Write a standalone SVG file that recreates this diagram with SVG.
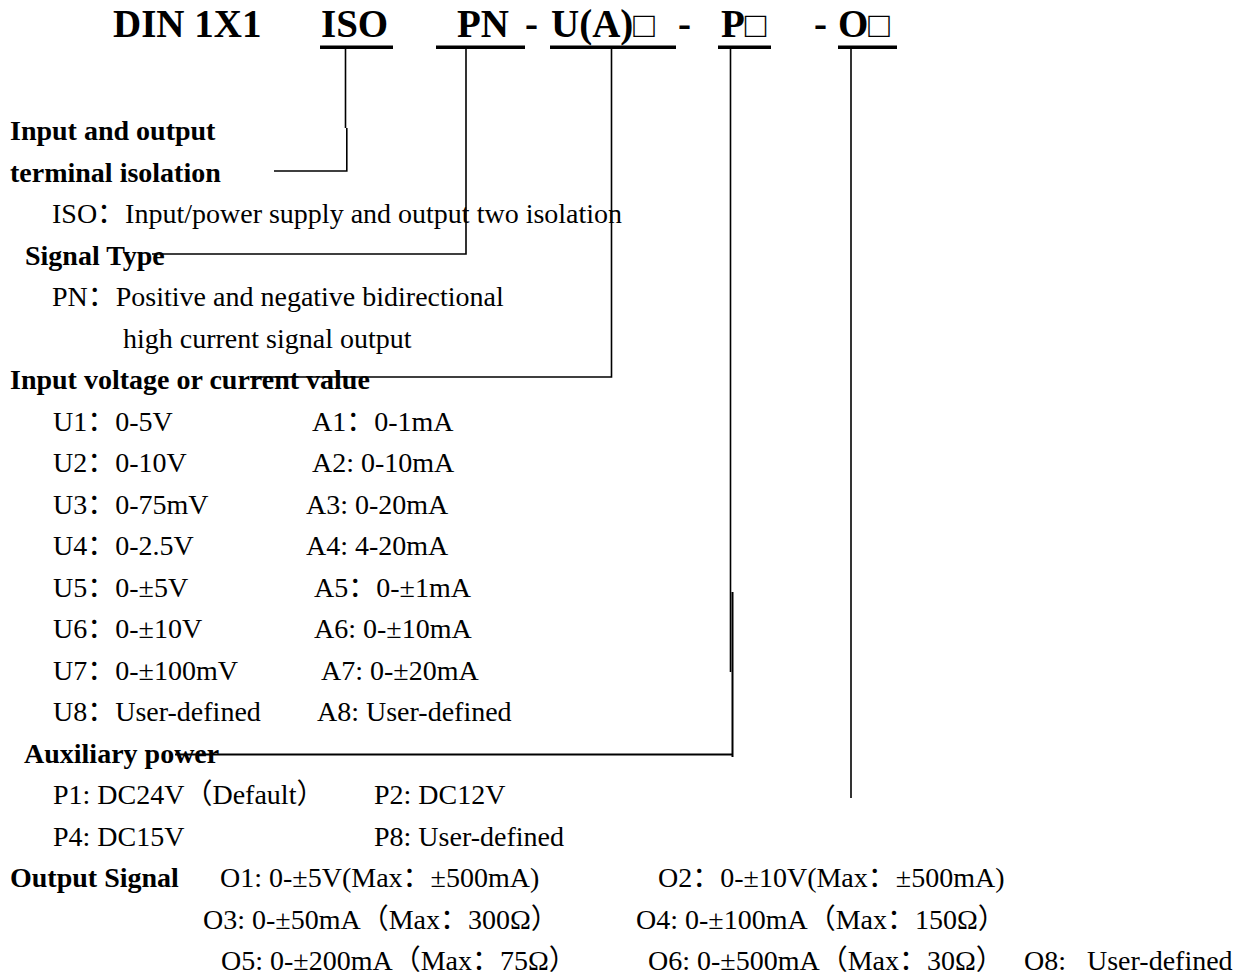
<svg xmlns="http://www.w3.org/2000/svg" width="1251" height="976" viewBox="0 0 1251 976">
<style>
text{font-family:"Liberation Serif","Times New Roman","Noto Sans CJK SC",serif;fill:#000}
.t{font-size:39px;font-weight:bold}
.sq{font-weight:normal;font-size:36px}
.b{font-size:28px;font-weight:bold}
.r{font-size:28px}
.ul{fill:#000}
.c{stroke:#000;stroke-width:1.6;fill:none}
</style>
<rect width="1251" height="976" fill="#fff"/>
<g id="title">
<text class="t" x="113" y="37" xml:space="preserve">DIN 1X1</text>
</g>
<g id="code-iso">
<text class="t" x="321" y="37">ISO</text>
<rect class="ul" x="320" y="45.5" width="73" height="3.5"/>
</g>
<g id="code-pn">
<text class="t" x="457" y="37">PN</text>
<rect class="ul" x="436" y="45.5" width="89" height="3.5"/>
<text class="t" x="525" y="37">-</text>
</g>
<g id="code-ua">
<text class="t" x="551" y="37">U(A)<tspan class="sq">□</tspan></text>
<rect class="ul" x="550" y="45.5" width="126" height="3.5"/>
<text class="t" x="678" y="37">-</text>
</g>
<g id="code-p">
<text class="t" x="721" y="37">P<tspan class="sq">□</tspan></text>
<rect class="ul" x="718" y="45.5" width="53" height="3.5"/>
</g>
<g id="code-o">
<text class="t" x="814" y="37">-</text>
<text class="t" x="838" y="37">O<tspan class="sq">□</tspan></text>
<rect class="ul" x="838" y="45.5" width="59" height="3.5"/>
</g>
<g id="connectors">
<path class="c" d="M345.5 49 V128 M346.8 128 V171 H274"/>
<path class="c" d="M466 49 V254 H152"/>
<path class="c" d="M611.5 49 V377 H250"/>
<path class="c" d="M730.5 49 V672"/>
<path class="c" d="M732.5 592 V757 M733 754.5 H175" style="stroke-width:2"/>
<path class="c" d="M851 49 V798"/>
</g>
<g id="isolation">
<text class="b" x="10" y="140">Input and output</text>
<text class="b" x="10" y="181.5">terminal isolation</text>
<text class="r" x="52" y="223">ISO：Input/power supply and output two isolation</text>
</g>
<g id="signal-type">
<text class="b" x="25" y="264.5">Signal Type</text>
<text class="r" x="52" y="306">PN：Positive and negative bidirectional</text>
<text class="r" x="123" y="347.5">high current signal output</text>
</g>
<g id="input-value">
<text class="b" x="10" y="389">Input voltage or current value</text>
<text class="r" x="53" y="430.5">U1：0-5V</text>
<text class="r" x="312" y="430.5">A1：0-1mA</text>
<text class="r" x="53" y="472">U2：0-10V</text>
<text class="r" x="312" y="472">A2: 0-10mA</text>
<text class="r" x="53" y="513.5">U3：0-75mV</text>
<text class="r" x="306" y="513.5">A3: 0-20mA</text>
<text class="r" x="53" y="555">U4：0-2.5V</text>
<text class="r" x="306" y="555">A4: 4-20mA</text>
<text class="r" x="53" y="596.5">U5：0-±5V</text>
<text class="r" x="314" y="596.5">A5：0-±1mA</text>
<text class="r" x="53" y="638">U6：0-±10V</text>
<text class="r" x="314" y="638">A6: 0-±10mA</text>
<text class="r" x="53" y="679.5">U7：0-±100mV</text>
<text class="r" x="321" y="679.5">A7: 0-±20mA</text>
<text class="r" x="53" y="721">U8：User-defined</text>
<text class="r" x="317" y="721">A8: User-defined</text>
</g>
<g id="aux-power">
<text class="b" x="24" y="762.5">Auxiliary power</text>
<text class="r" x="53" y="804">P1: DC24V（Default）</text>
<text class="r" x="374" y="804">P2: DC12V</text>
<text class="r" x="53" y="845.5">P4: DC15V</text>
<text class="r" x="374" y="845.5">P8: User-defined</text>
</g>
<g id="output-signal">
<text class="b" x="10" y="887">Output Signal</text>
<text class="r" x="220" y="887">O1: 0-±5V(Max：±500mA)</text>
<text class="r" x="658" y="887">O2：0-±10V(Max：±500mA)</text>
<text class="r" x="203" y="928.5">O3: 0-±50mA（Max：300Ω）</text>
<text class="r" x="636" y="928.5">O4: 0-±100mA（Max：150Ω）</text>
<text class="r" x="221" y="970">O5: 0-±200mA（Max：75Ω）</text>
<text class="r" x="648" y="970">O6: 0-±500mA（Max：30Ω）</text>
<text class="r" x="1024" y="970" xml:space="preserve">O8:   User-defined</text>
</g>
</svg>
